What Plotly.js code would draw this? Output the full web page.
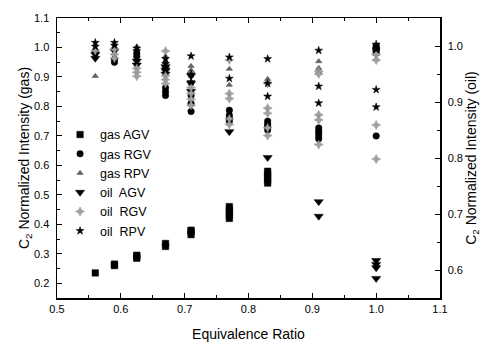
<!DOCTYPE html>
<html>
<head>
<meta charset="utf-8">
<script src="https://cdn.plot.ly/plotly-3.0.1.min.js"></script>
<style>html,body{margin:0;padding:0;background:#fff;}#chart{width:489px;height:342px;}</style>
</head>
<body>
<div id="chart"></div>
<script>
// Equivalence ratio values and C2 normalized intensities
const gasAGV_x = [0.56, 0.59, 0.59, 0.625, 0.625, 0.625, 0.67, 0.67, 0.71, 0.71, 0.71, 0.77, 0.77, 0.77, 0.77, 0.77, 0.83, 0.83, 0.83, 0.83, 0.83, 1.0, 1.0];
const gasAGV_y = [0.235, 0.26, 0.265, 0.285, 0.29, 0.295, 0.325, 0.335, 0.365, 0.375, 0.38, 0.42, 0.43, 0.44, 0.45, 0.46, 0.54, 0.55, 0.56, 0.57, 0.58, 0.99, 1.0];

const gasRGV_x = [0.56, 0.59, 0.59, 0.625, 0.625, 0.67, 0.67, 0.67, 0.71, 0.71, 0.71, 0.77, 0.77, 0.77, 0.77, 0.83, 0.83, 0.83, 0.83, 0.91, 0.91, 0.91, 0.91, 0.91, 1.0];
const gasRGV_y = [0.983, 0.96, 0.95, 0.98, 0.97, 0.863, 0.85, 0.837, 0.837, 0.81, 0.783, 0.787, 0.77, 0.76, 0.75, 0.75, 0.74, 0.733, 0.72, 0.727, 0.717, 0.71, 0.70, 0.69, 0.70];

const gasRPV_x = [0.56, 0.56, 0.59, 0.625, 0.625, 0.67, 0.67, 0.67, 0.71, 0.71, 0.77, 0.77, 0.83, 0.83, 0.91, 0.91, 0.91, 1.0, 1.0];
const gasRPV_y = [0.997, 0.903, 1.003, 1.003, 0.993, 0.97, 0.953, 0.937, 0.937, 0.923, 0.927, 0.873, 0.893, 0.883, 0.953, 0.93, 0.917, 0.977, 0.96];

const oilAGV_x = [0.56, 0.56, 0.59, 0.625, 0.625, 0.67, 0.67, 0.67, 0.71, 0.71, 0.71, 0.77, 0.83, 0.91, 0.91, 1.0, 1.0, 1.0, 1.0];
const oilAGV_y = [0.985, 0.978, 0.991, 0.973, 0.966, 0.963, 0.956, 0.95, 0.947, 0.933, 0.919, 0.847, 0.801, 0.722, 0.696, 0.617, 0.61, 0.604, 0.585];

const oilRGV_x = [0.56, 0.59, 0.59, 0.59, 0.625, 0.625, 0.625, 0.67, 0.67, 0.67, 0.67, 0.71, 0.71, 0.71, 0.71, 0.77, 0.77, 0.77, 0.77, 0.77, 0.83, 0.83, 0.83, 0.83, 0.83, 0.91, 0.91, 0.91, 0.91, 0.91, 1.0, 1.0, 1.0, 1.0];
const oilRGV_y = [0.992, 0.994, 0.985, 0.978, 0.96, 0.953, 0.946, 0.991, 0.947, 0.94, 0.933, 0.926, 0.915, 0.905, 0.894, 0.975, 0.915, 0.906, 0.87, 0.86, 0.933, 0.889, 0.88, 0.854, 0.84, 0.955, 0.95, 0.877, 0.868, 0.824, 0.985, 0.975, 0.859, 0.798];

const oilRPV_x = [0.56, 0.56, 0.59, 0.59, 0.625, 0.625, 0.67, 0.67, 0.67, 0.71, 0.71, 0.71, 0.77, 0.77, 0.83, 0.83, 0.83, 0.91, 0.91, 0.91, 1.0, 1.0, 1.0, 1.0];
const oilRPV_y = [1.006, 0.999, 1.006, 1.001, 0.996, 0.991, 0.977, 0.968, 0.959, 0.982, 0.95, 0.936, 0.98, 0.942, 0.977, 0.933, 0.91, 0.992, 0.928, 0.898, 1.003, 0.994, 0.922, 0.891];

const seriesNames = ['gas AGV', 'gas RGV', 'gas RPV', 'oil\u00a0 AGV', 'oil\u00a0 RGV', 'oil\u00a0 RPV'];
const xTickVals = [0.5, 0.6, 0.7, 0.8, 0.9, 1.0, 1.1];

const FONT = 'Arial, "Liberation Sans", sans-serif';

function tr(name, x, y, yaxis, symbol, size, color, lineColor) {
  return {
    type: 'scatter', mode: 'markers', name: name, x: x, y: y, yaxis: yaxis,
    marker: {symbol: symbol, size: size, color: color, line: {color: lineColor || color, width: 0.5}},
    cliponaxis: false
  };
}

const data = [
  tr(seriesNames[0], gasAGV_x, gasAGV_y, 'y', 'square', 6.5, '#000'),
  tr(seriesNames[1], gasRGV_x, gasRGV_y, 'y', 'circle', 6.5, '#000'),
  tr(seriesNames[2], gasRPV_x, gasRPV_y, 'y', 'triangle-up', 5.5, '#666', '#444'),
  tr(seriesNames[3], oilAGV_x, oilAGV_y, 'y2', 'triangle-down', 8, '#000'),
  tr(seriesNames[4], oilRGV_x, oilRGV_y, 'y2', 'star-diamond', 6.5, '#a0a0a0', '#808080'),
  tr(seriesNames[5], oilRPV_x, oilRPV_y, 'y2', 'star', 6, '#000')
];

const axisCommon = {
  showgrid: false, zeroline: false, showline: true, linecolor: '#000', linewidth: 1.5,
  ticks: 'inside', ticklen: 5, tickwidth: 1, tickcolor: '#000',
  tickfont: {family: FONT, size: 11, color: '#000'},
  tickformat: '.1f'
};

const layout = {
  width: 489, height: 342,
  margin: {l: 57, r: 49, t: 13, b: 44, pad: 0},
  paper_bgcolor: '#fff', plot_bgcolor: '#fff',
  font: {family: FONT, color: '#000'},
  showlegend: true,
  legend: {
    x: 0.008, y: 0.636, xanchor: 'left', yanchor: 'top',
    bgcolor: 'rgba(0,0,0,0)', borderwidth: 0,
    font: {family: FONT, size: 12.5, color: '#000'},
    tracegroupgap: 0, itemsizing: 'trace'
  },
  xaxis: Object.assign({}, axisCommon, {
    range: [0.5, 1.1], tickvals: xTickVals, mirror: 'ticks', automargin: false,
    minor: {dtick: 0.05, ticks: 'inside', ticklen: 3, tickcolor: '#000'},
    title: {text: 'Equivalence Ratio', font: {family: FONT, size: 14, color: '#000'}}
  }),
  yaxis: Object.assign({}, axisCommon, {
    range: [0.15, 1.1], tick0: 0.2, dtick: 0.1, automargin: true,
    minor: {dtick: 0.05, ticks: 'inside', ticklen: 3, tickcolor: '#000'},
    ticklabelstandoff: 4,
    title: {text: 'C<sub>2</sub> Normalized Intensity (gas)', font: {family: FONT, size: 14, color: '#000'}, standoff: 0}
  }),
  yaxis2: Object.assign({}, axisCommon, {
    range: [0.55, 1.05], tick0: 0.6, dtick: 0.1, overlaying: 'y', side: 'right', automargin: true,
    minor: {dtick: 0.05, ticks: 'inside', ticklen: 3, tickcolor: '#000'},
    ticklabelstandoff: 4,
    title: {text: 'C<sub>2</sub> Normalized Intensity (oil)', font: {family: FONT, size: 14, color: '#000'}, standoff: 3}
  })
};

Plotly.newPlot('chart', data, layout, {staticPlot: true, displayModeBar: false});
</script>
</body>
</html>
